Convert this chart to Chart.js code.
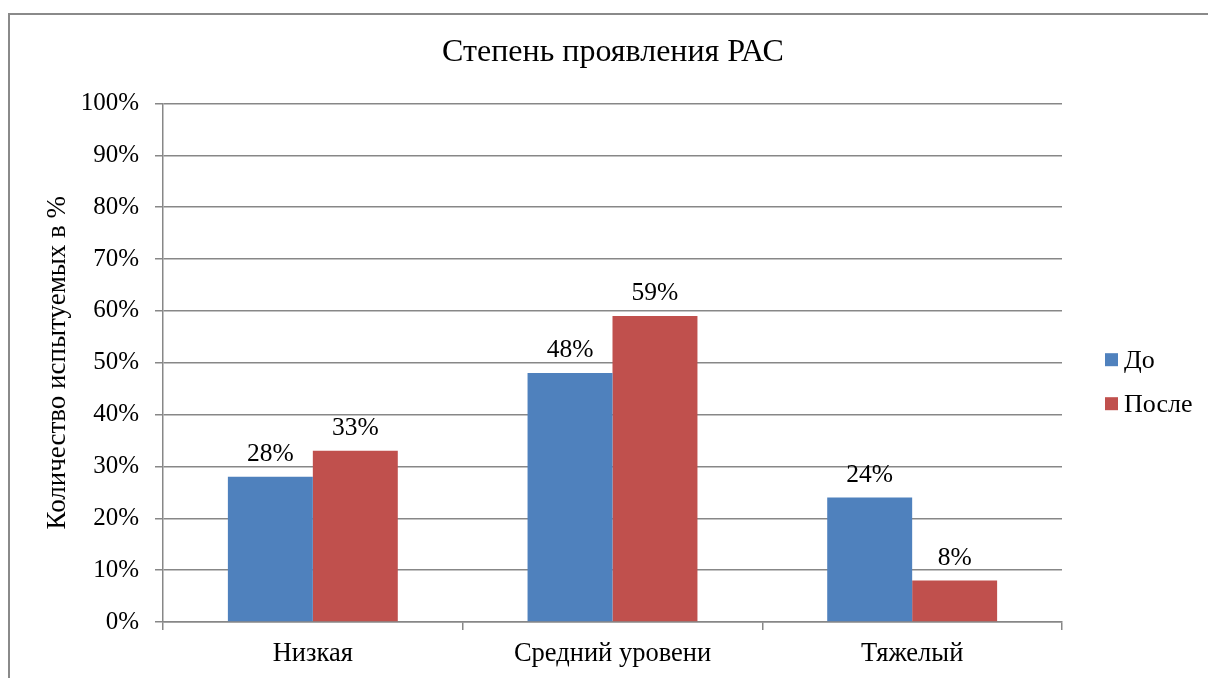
<!DOCTYPE html>
<html>
<head>
<meta charset="utf-8">
<script src="https://cdn.jsdelivr.net/npm/chart.js@4/dist/chart.umd.min.js"></script>
<style>
  html, body { margin: 0; padding: 0; background: #fff; }
  #wrap { position: relative; width: 1208px; height: 678px; }
  canvas { display: block; }
</style>
</head>
<body>
<div id="wrap"><canvas id="c" width="1208" height="678"></canvas></div>
<script>
const categories = ['Низкая', 'Средний уровени', 'Тяжелый'];
const seriesNames = ['До', 'После'];
const valuesBefore = [28, 48, 24];
const valuesAfter = [33, 59, 8];
const yTicks = [0, 10, 20, 30, 40, 50, 60, 70, 80, 90, 100];
const chartTitle = 'Степень проявления РАС';
const yTitle = 'Количество испытуемых в %';

const FONT = '"Liberation Serif", "Times New Roman", serif';
const GRID = '#878787';

const framePlugin = {
  id: 'frame',
  beforeDraw(chart) {
    const ctx = chart.ctx;
    ctx.save();
    ctx.strokeStyle = '#8a8a8a';
    ctx.lineWidth = 2;
    ctx.beginPath();
    ctx.moveTo(9, 678);
    ctx.lineTo(9, 14);
    ctx.lineTo(1208, 14);
    ctx.stroke();
    ctx.restore();
  }
};

const labelPlugin = {
  id: 'barLabels',
  afterDatasetsDraw(chart) {
    const ctx = chart.ctx;
    ctx.save();
    ctx.font = '25.5px ' + FONT;
    ctx.fillStyle = '#000';
    ctx.textAlign = 'center';
    ctx.textBaseline = 'alphabetic';
    chart.data.datasets.forEach((ds, i) => {
      chart.getDatasetMeta(i).data.forEach((bar, j) => {
        ctx.fillText(ds.data[j] + '%', bar.x, bar.y - 16);
      });
    });
    ctx.restore();
  }
};

const legendPlugin = {
  id: 'sideLegend',
  afterDraw(chart) {
    const ctx = chart.ctx;
    ctx.save();
    ctx.font = '26px ' + FONT;
    ctx.textBaseline = 'middle';
    ctx.textAlign = 'left';
    const x0 = chart.chartArea.right + 43;
    const yc = (chart.chartArea.top + chart.chartArea.bottom) / 2;
    chart.data.datasets.forEach((ds, i) => {
      const y = yc - 3 + i * 44;
      ctx.fillStyle = ds.backgroundColor;
      ctx.fillRect(x0, y - 6.5, 13, 13);
      ctx.fillStyle = '#000';
      ctx.fillText(ds.label, x0 + 19, y + 1);
    });
    ctx.restore();
  }
};

new Chart(document.getElementById('c'), {
  type: 'bar',
  data: {
    labels: categories,
    datasets: [
      { label: seriesNames[0], data: valuesBefore, backgroundColor: '#4F81BD' },
      { label: seriesNames[1], data: valuesAfter, backgroundColor: '#C0504D' }
    ]
  },
  options: {
    responsive: false,
    animation: false,
    devicePixelRatio: 1,
    layout: { padding: { left: 18, right: 0, top: 0, bottom: 0 } },
    datasets: { bar: { categoryPercentage: 0.567, barPercentage: 1.0 } },
    plugins: {
      legend: { display: false },
      tooltip: { enabled: false },
      title: {
        display: true,
        text: chartTitle,
        color: '#000',
        font: { family: FONT, size: 32, weight: 'normal' },
        padding: { top: 33, bottom: 32 }
      }
    },
    scales: {
      x: {
        offset: true,
        grid: { offset: true, drawOnChartArea: false, drawTicks: true, tickLength: 8, color: GRID, lineWidth: 1.5 },
        border: { color: GRID, width: 1.5 },
        ticks: { color: '#000', font: { family: FONT, size: 26.5 }, padding: 8, maxRotation: 0 },
        afterFit(s) { s.height = 56; }
      },
      y: {
        min: 0, max: 100,
        afterBuildTicks(s) { s.ticks = yTicks.map(v => ({ value: v })); },
        grid: { color: GRID, lineWidth: 1.5, tickLength: 8, drawTicks: true },
        border: { color: GRID, width: 1.5 },
        ticks: { color: '#000', font: { family: FONT, size: 25 }, padding: 16, callback: v => v + '%' },
        title: {
          display: true, text: yTitle, color: '#000',
          font: { family: FONT, size: 27 }, padding: { top: 24, bottom: 0 }
        },
        afterFit(s) { s.width = 145; }
      },
      legendSpace: {
        position: 'right',
        display: true,
        min: 0, max: 1,
        grid: { display: false, drawOnChartArea: false, drawTicks: false },
        border: { display: false },
        ticks: { display: false },
        afterFit(s) { s.width = 146; }
      }
    }
  },
  plugins: [framePlugin, labelPlugin, legendPlugin]
});
</script>
</body>
</html>
